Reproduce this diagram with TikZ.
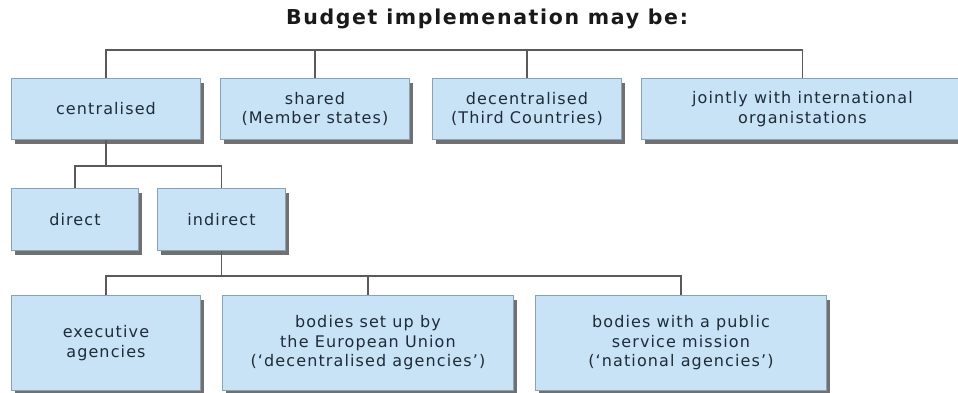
\documentclass[tikz,border=0pt]{standalone}
\usepackage{fontspec}
\setmainfont{DejaVu Sans}[LetterSpace=7]
\newfontfamily\titlefont{DejaVu Sans}[LetterSpace=8]
\usetikzlibrary{shadows}
\definecolor{boxfill}{HTML}{C9E3F6}
\definecolor{boxline}{HTML}{8AA2B8}
\definecolor{boxtext}{HTML}{1E2B38}
\definecolor{connline}{HTML}{5A5A5A}
\tikzset{
	budgetbox/.style={draw=boxline, line width=0.9pt, fill=boxfill, text=boxtext, align=center, anchor=north west, inner sep=0pt, font=\fontsize{16}{19.5}\selectfont, drop shadow={shadow xshift=4pt, shadow yshift=-5pt, opacity=0.75, fill=black!75}},
	conn/.style={draw=connline, line width=1.1pt}
}
\begin{document}
\begin{tikzpicture}[x=1pt,y=-1pt]
	\def\rowa{78};
	\def\rowb{188};
	\def\rowc{295};
	\useasboundingbox (0,0) rectangle (958,392);
	\clip (0,0) rectangle (958,392);
	\node[font=\titlefont\bfseries\fontsize{20.5}{23}\selectfont, text=black!90] (title) at (487,19) {Budget implemenation may be:};
	
	\node[budgetbox, minimum width=189pt, minimum height=61pt] (cent) at (11,\rowa) {centralised};
	\node[budgetbox, minimum width=189pt, minimum height=61pt] (shared) at (220,\rowa) {shared\\(Member states)};
	\node[budgetbox, minimum width=189pt, minimum height=61pt] (decent) at (432,\rowa) {decentralised\\(Third Countries)};
	\node[budgetbox, minimum width=322pt, minimum height=61pt] (joint) at (641,\rowa) {jointly with international\\organistations};
	
	\node[budgetbox, minimum width=127pt, minimum height=62pt] (direct) at (11,\rowb) {direct};
	\node[budgetbox, minimum width=128pt, minimum height=62pt] (indirect) at (157,\rowb) {indirect};
	
	\node[budgetbox, minimum width=189pt, minimum height=95pt] (exec) at (11,\rowc) {executive\\agencies};
	\node[budgetbox, minimum width=291pt, minimum height=95pt] (euagency) at (222,\rowc) {bodies set up by\\the European Union\\(`decentralised agencies')};
	\node[budgetbox, minimum width=291pt, minimum height=95pt] (natagency) at (535,\rowc) {bodies with a public\\service mission\\(`national agencies')};
	
	\coordinate (bus1) at (0,50);
	\coordinate (bus2) at (0,166);
	\coordinate (bus3) at (0,276);
	\draw[conn] (cent.north) -- (cent.north |- bus1) -| (joint.north);
	\draw[conn] (shared.north) -- (shared.north |- bus1);
	\draw[conn] (decent.north) -- (decent.north |- bus1);
	\draw[conn] (cent.south) -- (cent.south |- bus2);
	\draw[conn] (direct.north) -- (direct.north |- bus2) -| (indirect.north);
	\draw[conn] (indirect.south) -- (indirect.south |- bus3);
	\draw[conn] (exec.north) -- (exec.north |- bus3) -| (natagency.north);
	\draw[conn] (euagency.north) -- (euagency.north |- bus3);
\end{tikzpicture}
\end{document}
